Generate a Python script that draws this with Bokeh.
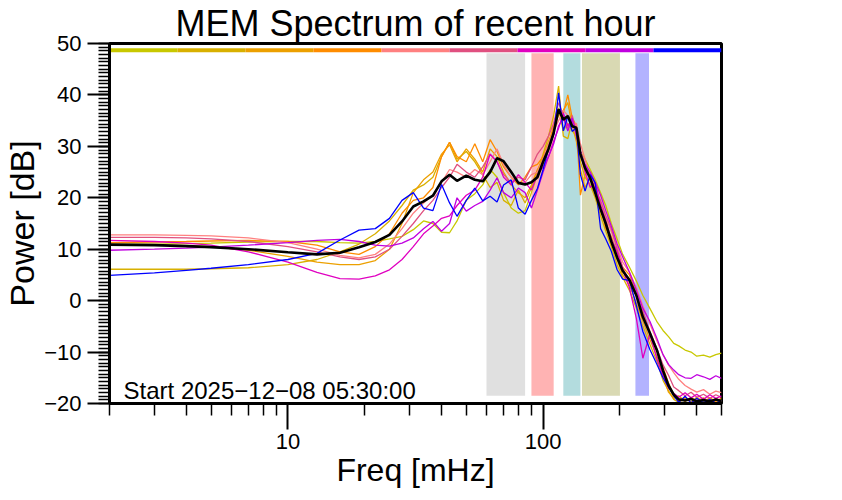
import numpy as np
from bokeh.plotting import figure
from bokeh.models import Range1d, FixedTicker, SingleIntervalTicker, Label
from bokeh.embed import file_html
from bokeh.resources import INLINE

# ---------------- data ----------------
FREQ = [2, 3, 4, 5, 7, 10, 13, 16, 19, 22, 25, 28, 31, 34, 37, 40, 43, 46, 50, 54,
        58, 62, 66, 70, 75, 80, 85, 90, 95, 100, 105, 110, 115, 120, 125, 130, 135, 140, 146, 153,
        160, 168, 176, 185, 195, 205, 218, 232, 246, 262, 280, 295, 310, 325, 340, 360, 380, 400, 425, 450,
        475, 500]

S1_YELLOWGREEN = [11.0, 11.0, 11.1, 11.2, 11.4, 11.5, 11.5, 11.3, 11.2, 11.5, 12.0, 12.5, 13.8, 15.5, 15.0, 13.3, 13.2, 15.5, 19.5, 20.8,
                  22.5, 25.5, 24.0, 21.0, 18.0, 17.0, 17.5, 21.0, 24.5, 28.0, 31.0, 33.0, 37.5, 33.0, 34.5, 33.0, 32.0, 29.0, 27.5, 25.5,
                  23.5, 21.0, 18.5, 15.0, 12.0, 9.0, 6.5, 3.8, 1.0, -1.5, -4.2, -5.8, -7.0, -8.3, -8.8, -9.6, -10.0, -10.8, -10.6, -11.0,
                  -10.5, -10.2]
S2_GOLD = [6.1, 6.1, 6.1, 6.2, 6.4, 7.0, 8.0, 9.5, 11.0, 13.0, 15.5, 18.5, 21.5, 22.5, 24.0, 28.0, 30.8, 27.5, 29.0, 27.0,
           24.5, 22.0, 23.0, 19.5, 18.5, 21.5, 19.0, 22.0, 25.0, 28.5, 32.0, 36.0, 41.7, 32.0, 31.5, 35.0, 32.5, 27.0, 24.0, 22.5,
           20.0, 16.5, 13.5, 10.5, 7.0, 4.5, 2.0, -1.5, -5.0, -8.5, -12.0, -15.5, -17.5, -19.2, -19.8, -19.0, -19.7, -18.8, -19.6, -19.0,
           -19.8, -19.3]
S3_ORANGEGOLD = [10.8, 10.8, 10.7, 10.5, 9.8, 8.6, 7.5, 7.0, 7.0, 7.8, 10.0, 15.0, 21.0, 23.5, 25.0, 28.5, 30.3, 27.0, 29.5, 27.5,
                 25.0, 29.5, 28.0, 25.0, 22.5, 21.0, 20.0, 22.5, 25.5, 27.5, 30.0, 33.5, 36.0, 37.0, 38.5, 34.0, 31.0, 25.5, 22.0, 24.0,
                 21.0, 17.5, 15.0, 11.0, 8.0, 5.0, 3.0, -0.5, -4.0, -7.5, -11.0, -14.5, -17.8, -19.0, -18.5, -19.6, -18.8, -19.5, -18.9, -19.7,
                 -19.0, -19.6]
S4_ORANGE = [11.3, 11.4, 11.5, 11.6, 11.7, 11.5, 10.8, 9.5, 9.0, 10.5, 13.0, 17.0, 19.5, 20.0, 22.0, 28.0, 30.8, 28.0, 27.0, 30.5,
             27.0, 31.3, 29.0, 26.0, 24.0, 22.5, 24.0, 26.0, 26.5, 28.0, 30.5, 34.0, 37.0, 36.5, 40.0, 35.5, 34.0, 20.5, 24.5, 25.0,
             22.5, 18.5, 14.0, 12.5, 9.0, 6.5, 5.0, 1.5, -2.5, -6.5, -10.0, -13.0, -16.0, -18.5, -19.5, -18.8, -19.8, -19.2, -19.9, -18.9,
             -19.6, -19.0]
S5_SALMON = [12.8, 12.8, 12.7, 12.6, 12.2, 11.3, 10.0, 8.8, 8.3, 9.0, 11.0, 14.0, 17.0, 19.0, 20.5, 23.0, 25.5, 25.0, 24.0, 25.5,
             24.5, 27.0, 29.5, 26.5, 24.0, 23.0, 23.0, 24.5, 25.0, 27.5, 30.5, 33.0, 35.0, 37.0, 36.0, 33.5, 34.5, 30.5, 27.5, 24.0,
             22.0, 19.0, 16.0, 13.5, 10.5, 7.5, 5.5, 2.5, -1.0, -4.5, -8.0, -10.5, -12.5, -14.0, -15.3, -16.5, -17.2, -17.8, -17.3, -18.2,
             -17.6, -17.9]
S6_PINK = [12.3, 12.3, 12.2, 12.0, 11.5, 10.5, 9.5, 8.5, 8.0, 8.5, 10.0, 12.5, 15.0, 17.5, 19.5, 22.0, 24.0, 26.5, 25.0, 24.0,
           26.0, 28.5, 27.0, 24.5, 23.0, 24.0, 23.5, 26.0, 28.5, 30.0, 32.0, 34.5, 38.5, 36.0, 33.5, 36.0, 33.0, 29.0, 26.0, 24.5,
           21.5, 19.5, 16.5, 14.0, 10.0, 6.5, 3.5, 1.0, -2.0, -6.0, -9.5, -12.5, -14.5, -16.8, -17.5, -18.5, -17.8, -18.8, -18.2, -19.0,
           -18.3, -18.8]
S7_MAGENTA = [11.7, 11.5, 11.2, 10.8, 9.5, 7.5, 5.5, 4.3, 4.2, 4.8, 6.0, 8.0, 10.5, 13.0, 14.5, 16.0, 16.5, 18.5, 20.5, 21.5,
              24.0, 28.5, 27.0, 24.0, 22.5, 24.5, 23.0, 21.5, 24.5, 26.0, 28.0, 31.0, 33.5, 36.5, 34.0, 35.0, 33.0, 29.0, 25.0, 22.0,
              23.0, 18.5, 15.5, 12.0, 9.5, 6.0, 2.5, -3.5, -11.2, -6.5, -11.5, -14.5, -17.0, -18.0, -18.8, -17.9, -18.9, -18.2, -19.2, -18.3,
              -19.0, -18.5]
S8_PURPLE = [9.8, 10.0, 10.2, 10.4, 10.8, 11.3, 11.7, 11.9, 11.5, 10.8, 10.6, 11.2, 12.2, 14.0, 15.4, 13.5, 15.0, 20.0, 17.4, 18.5,
             19.3, 21.5, 23.9, 21.0, 20.0, 21.9, 21.0, 18.0, 21.5, 25.0, 28.0, 30.5, 34.0, 35.5, 33.0, 35.5, 32.0, 29.0, 26.5, 25.0,
             23.0, 20.5, 17.5, 14.5, 11.0, 8.5, 5.5, 2.0, -1.5, -4.0, -7.5, -10.5, -12.4, -13.5, -14.4, -15.0, -15.1, -14.4, -14.8, -15.3,
             -14.6, -15.1]
S9_BLUE = [4.9, 5.4, 5.9, 6.3, 7.0, 8.0, 9.2, 11.8, 13.7, 14.0, 16.0, 19.5, 21.0, 18.0, 17.5, 22.6, 19.0, 16.4, 19.5, 21.9,
           19.4, 20.3, 19.2, 22.5, 23.5, 18.0, 16.8, 19.5, 21.8, 25.5, 29.5, 32.3, 40.4, 33.0, 35.9, 32.9, 33.6, 24.5, 21.3, 24.5,
           22.9, 14.0, 12.0, 9.6, 6.0, 4.2, 3.9, -1.0, -6.0, -9.5, -12.5, -15.0, -16.8, -18.5, -19.8, -18.6, -19.9, -19.0, -19.8, -19.2,
           -19.9, -19.4]
MEAN = [10.9, 10.8, 10.6, 10.4, 10.0, 9.4, 9.0, 9.3, 10.4, 11.4, 12.8, 15.4, 18.3, 19.3, 20.4, 23.2, 24.5, 23.3, 24.3, 23.5,
        23.2, 25.0, 27.7, 27.1, 25.0, 22.9, 22.6, 23.0, 24.0, 27.0, 29.5, 32.6, 37.2, 35.2, 35.9, 33.9, 33.6, 28.5, 25.8, 23.8,
        21.0, 17.8, 15.0, 11.5, 8.4, 5.8, 4.0, 1.0, -3.2, -6.3, -9.8, -13.6, -16.5, -18.3, -19.2, -19.4, -19.1, -19.6, -19.3, -19.6,
        -19.2, -19.5]

SERIES = [S1_YELLOWGREEN, S2_GOLD, S3_ORANGEGOLD, S4_ORANGE, S5_SALMON, S6_PINK, S7_MAGENTA, S8_PURPLE, S9_BLUE]
SERIES_COLORS = ["#c8c800", "#d8b000", "#eca000", "#ff8c00", "#ff8080", "#e05080", "#e000c0", "#c000e0", "#0000ff"]

BAND_LO = [60, 90, 120, 142, 230]
BAND_HI = [85, 110, 140, 200, 260]
BAND_COLORS = ["#e0e0e0", "#ffb3b3", "#b3dcde", "#d9d9b3", "#b3b3ff"]

X_MAJOR = [10, 100]
X_MINOR = [2, 3, 4, 5, 6, 7, 8, 9, 20, 30, 40, 50, 60, 70, 80, 90, 200, 300, 400, 500]
Y_MAJOR = [-20, -10, 0, 10, 20, 30, 40, 50]
Y_LABELS = ["\u221220", "\u221210", "0", "10", "20", "30", "40", "50"]

TITLE = "MEM Spectrum of recent hour"
START_TEXT = "Start 2025\u221212\u221208 05:30:00"
X_LABEL = "Freq [mHz]"
Y_LABEL = "Power [dB]"

FONT = "Liberation Sans"

# ---------------- figure ----------------
X0, X1 = 2, 500
Y0, Y1 = -20, 50

p = figure(x_axis_type="log", x_range=Range1d(X0, X1), y_range=Range1d(Y0, Y1),
           frame_width=612, frame_height=360,
           min_border_left=100, min_border_right=114, min_border_top=42, min_border_bottom=92,
           output_backend="svg", toolbar_location=None, title=TITLE)
p.xgrid.visible = False
p.ygrid.visible = False
p.background_fill_color = "white"
p.border_fill_color = "white"
p.outline_line_color = "black"
p.outline_line_width = 3

p.title.align = "center"
p.title.text_font = FONT
p.title.text_font_size = "36px"
p.title.text_font_style = "normal"
p.title.text_color = "black"
p.title.standoff = 0
p.title.offset = 0

# bands
p.quad(left=BAND_LO, right=BAND_HI, bottom=-18.5, top=48.1, fill_color=BAND_COLORS, line_color=None)

# colour bar at top (equal log-width segments)
edges = 10 ** np.linspace(np.log10(X0), np.log10(X1), len(SERIES_COLORS) + 1)
p.quad(left=edges[:-1], right=edges[1:], bottom=48.3, top=49.1, fill_color=SERIES_COLORS, line_color=None)

for vals, col in zip(SERIES, SERIES_COLORS):
    p.line(FREQ, vals, line_color=col, line_width=1.3)
p.line(FREQ, MEAN, line_color="black", line_width=2.6)

# axes
xa = p.xaxis[0]
xa.ticker = FixedTicker(ticks=X_MAJOR, minor_ticks=X_MINOR)
xa.major_label_overrides = {10: "10", 100: "100"}
ya = p.yaxis[0]
ya.ticker = SingleIntervalTicker(interval=10, num_minor_ticks=14)
ya.major_label_overrides = {v: s for v, s in zip(Y_MAJOR, Y_LABELS)}

for ax in (xa, ya):
    ax.axis_line_width = 3
    ax.axis_line_color = "black"
    ax.major_tick_line_width = 2
    ax.minor_tick_line_width = 1.5
    ax.major_tick_in = 0
    ax.minor_tick_in = 0
    ax.major_label_text_font = FONT
    ax.major_label_text_font_size = "22px"
    ax.major_label_text_color = "black"
    ax.axis_label_text_font = FONT
    ax.axis_label_text_font_style = "normal"
    ax.axis_label_text_color = "black"

xa.axis_label = X_LABEL
xa.axis_label_text_font_size = "32px"
xa.major_tick_out = 26
xa.minor_tick_out = 12
xa.major_label_standoff = 4
xa.axis_label_standoff = 0

ya.axis_label = Y_LABEL
ya.axis_label_text_font_size = "34px"
ya.major_tick_out = 22
ya.minor_tick_out = 11
ya.major_label_standoff = 6
ya.axis_label_standoff = 0

# annotation text
p.add_layout(Label(x=2.27, y=-17.56, text=START_TEXT, text_align="left", text_baseline="alphabetic",
                   text_font=FONT, text_font_size="24px", text_color="black"))

open("out.html", "w").write(file_html(p, INLINE))
